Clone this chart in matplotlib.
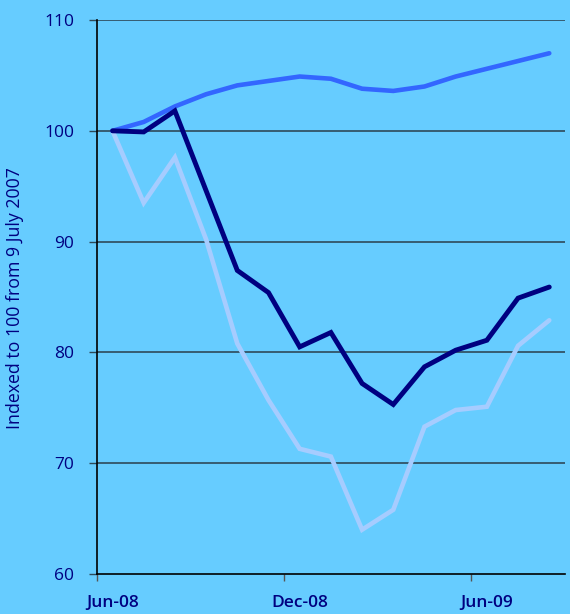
import matplotlib
matplotlib.use("Agg")
import matplotlib.pyplot as plt

months = ["Jun-08", "Jul-08", "Aug-08", "Sep-08", "Oct-08", "Nov-08", "Dec-08",
          "Jan-09", "Feb-09", "Mar-09", "Apr-09", "May-09", "Jun-09", "Jul-09", "Aug-09"]
series_mid = [100.0, 100.8, 102.2, 103.3, 104.1, 104.5, 104.9, 104.7, 103.8, 103.6,
              104.0, 104.9, 105.6, 106.3, 107.0]
series_dark = [100.0, 99.9, 101.8, 94.6, 87.4, 85.4, 80.5, 81.8, 77.2, 75.3,
               78.7, 80.2, 81.1, 84.9, 85.9]
series_light = [100.0, 93.5, 97.6, 90.2, 80.8, 75.7, 71.3, 70.6, 64.0, 65.8,
                73.3, 74.8, 75.1, 80.6, 82.9]
xtick_labels = ["Jun-08", "Dec-08", "Jun-09"]
yticks = [60, 70, 80, 90, 100, 110]

bg = "#66CCFF"
txt = "#000080"
plt.rcParams["font.family"] = ["Open Sans", "DejaVu Sans"]

fig = plt.figure(figsize=(5.7, 6.14), dpi=100, facecolor=bg)
ax = fig.add_axes([0.170, 0.0651, 0.821, 0.9023], facecolor=bg)

x = list(range(len(months)))
for yv in yticks[1:]:
    ax.axhline(yv, color="#2E4A5A", lw=1.2, zorder=1)
ax.plot(x, series_light, color="#A6CCFF", lw=3.3, solid_capstyle="round", solid_joinstyle="miter", zorder=2)
ax.plot(x, series_mid, color="#3366FF", lw=3.3, solid_capstyle="round", solid_joinstyle="miter", zorder=3)
ax.plot(x, series_dark, color="#000080", lw=3.5, solid_capstyle="round", solid_joinstyle="miter", zorder=4)

ax.set_xlim(-0.5, len(months) - 0.5)
ax.set_ylim(60, 110)
ax.set_yticks(yticks)
ax.set_yticklabels([str(v) for v in yticks], color=txt, fontsize=12.5)

# tick marks at category boundaries, labels at category centres
label_idx = [months.index(m) for m in xtick_labels]
ax.set_xticks([i - 0.5 for i in label_idx])
ax.set_xticklabels([""] * len(label_idx))
ax.set_xticks(label_idx, minor=True)
ax.set_xticklabels(xtick_labels, minor=True, color=txt, fontsize=12.5, fontweight="semibold")
ax.tick_params(axis="x", which="minor", length=0, pad=15)
ax.tick_params(axis="x", which="major", direction="out", length=5, width=1, color="#555555")
ax.tick_params(axis="y", direction="out", length=6, width=1, color="#2E4A5A", pad=10.5)
for s in ["top", "right"]:
    ax.spines[s].set_visible(False)
for s in ["left", "bottom"]:
    ax.spines[s].set_color("black")
    ax.spines[s].set_linewidth(1.2)
ax.set_ylabel("Indexed to 100 from 9 July 2007", color=txt, fontsize=12.8)
ax.yaxis.set_label_coords(-0.156, 0.498)

fig.savefig("out.png", dpi=100, facecolor=bg)
